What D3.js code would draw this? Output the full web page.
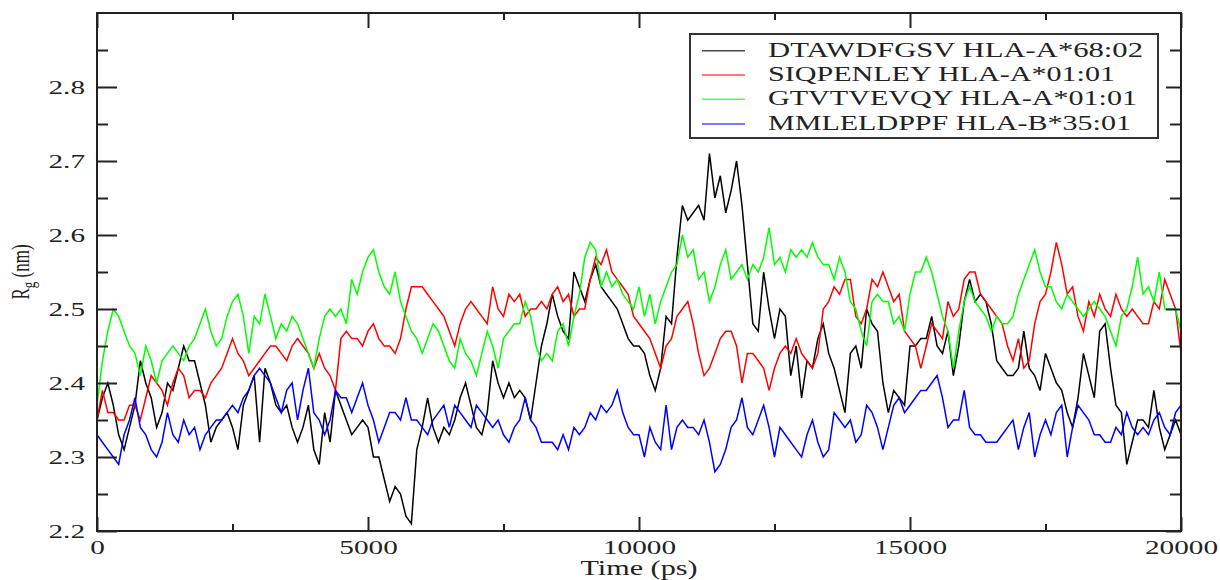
<!DOCTYPE html>
<html>
<head>
<meta charset="utf-8">
<script src="https://cdn.jsdelivr.net/npm/d3@7"></script>
<style>
  body { margin: 0; background: #fff; }
  text { font-family: "Liberation Serif", "Times New Roman", serif; fill: #222; }
</style>
</head>
<body>
<div id="top"></div>
<script>
// time axis: one frame every 100 ps, 0 .. 20000 ps
var timeStep = 100;

var seriesNames = [
  'DTAWDFGSV HLA-A*68:02',
  'SIQPENLEY HLA-A*01:01',
  'GTVTVEVQY HLA-A*01:01',
  'MMLELDPPF HLA-B*35:01'
];
var seriesColors = ['#000000', '#ff0000', '#00ff00', '#0000ff'];

// Rg (nm)
var rgDTAW = [
  2.35,2.38,2.40,2.37,2.33,2.31,2.34,2.37,2.43,2.40,
  2.38,2.34,2.36,2.40,2.39,2.42,2.45,2.43,2.43,2.40,
  2.37,2.32,2.34,2.35,2.36,2.34,2.31,2.37,2.39,2.41,
  2.32,2.42,2.40,2.37,2.36,2.37,2.34,2.32,2.34,2.37,
  2.31,2.29,2.36,2.32,2.39,2.37,2.35,2.33,2.34,2.35,
  2.34,2.30,2.30,2.27,2.24,2.26,2.25,2.22,2.21,2.31,
  2.34,2.38,2.34,2.32,2.34,2.33,2.35,2.38,2.40,2.37,
  2.34,2.33,2.36,2.43,2.40,2.38,2.40,2.38,2.39,2.38,
  2.35,2.40,2.45,2.48,2.52,2.49,2.47,2.46,2.55,2.53,
  2.51,2.54,2.56,2.53,2.52,2.51,2.50,2.48,2.46,2.45,
  2.45,2.44,2.41,2.39,2.42,2.49,2.48,2.57,2.64,2.62,
  2.63,2.64,2.62,2.71,2.65,2.68,2.63,2.66,2.70,2.64,
  2.56,2.48,2.47,2.55,2.50,2.46,2.50,2.49,2.41,2.45,
  2.38,2.43,2.42,2.46,2.48,2.44,2.42,2.39,2.36,2.44,
  2.45,2.42,2.50,2.48,2.47,2.40,2.36,2.39,2.38,2.37,
  2.45,2.45,2.46,2.46,2.49,2.45,2.44,2.47,2.41,2.45,
  2.51,2.54,2.51,2.52,2.51,2.48,2.43,2.42,2.41,2.41,
  2.42,2.47,2.42,2.41,2.39,2.44,2.42,2.40,2.39,2.36,
  2.34,2.38,2.44,2.41,2.38,2.47,2.48,2.42,2.37,2.36,
  2.29,2.32,2.35,2.35,2.34,2.39,2.34,2.31,2.33,2.35,
  2.33
];
var rgSIQP = [
  2.35,2.39,2.36,2.36,2.35,2.35,2.37,2.37,2.35,2.38,
  2.41,2.40,2.39,2.37,2.40,2.42,2.41,2.38,2.39,2.39,
  2.38,2.40,2.41,2.42,2.44,2.46,2.44,2.43,2.41,2.42,
  2.43,2.44,2.45,2.45,2.44,2.43,2.45,2.46,2.45,2.44,
  2.42,2.44,2.42,2.41,2.39,2.46,2.47,2.46,2.46,2.45,
  2.47,2.48,2.46,2.45,2.45,2.44,2.46,2.50,2.53,2.53,
  2.53,2.52,2.51,2.50,2.49,2.47,2.45,2.48,2.50,2.51,
  2.50,2.49,2.48,2.53,2.50,2.49,2.52,2.51,2.52,2.49,
  2.50,2.50,2.51,2.50,2.52,2.53,2.51,2.52,2.49,2.50,
  2.50,2.54,2.57,2.56,2.58,2.55,2.54,2.53,2.52,2.49,
  2.48,2.47,2.46,2.44,2.42,2.45,2.46,2.49,2.50,2.51,
  2.48,2.44,2.41,2.42,2.44,2.46,2.47,2.47,2.45,2.40,
  2.44,2.44,2.43,2.42,2.39,2.42,2.44,2.45,2.44,2.46,
  2.44,2.43,2.42,2.44,2.50,2.51,2.53,2.52,2.54,2.54,
  2.49,2.48,2.50,2.54,2.53,2.55,2.53,2.51,2.52,2.47,
  2.46,2.45,2.42,2.45,2.48,2.47,2.46,2.51,2.49,2.50,
  2.54,2.55,2.55,2.52,2.51,2.50,2.49,2.48,2.45,2.43,
  2.46,2.42,2.43,2.48,2.51,2.52,2.55,2.59,2.56,2.52,
  2.53,2.49,2.47,2.51,2.49,2.52,2.50,2.49,2.52,2.50,
  2.49,2.50,2.49,2.48,2.48,2.51,2.50,2.54,2.52,2.50,
  2.44
];
var rgGTVT = [
  2.37,2.43,2.47,2.50,2.49,2.47,2.45,2.44,2.41,2.45,
  2.43,2.40,2.43,2.44,2.45,2.44,2.43,2.45,2.46,2.48,
  2.50,2.47,2.45,2.46,2.49,2.51,2.52,2.49,2.44,2.49,
  2.48,2.52,2.49,2.46,2.48,2.47,2.49,2.48,2.46,2.44,
  2.42,2.46,2.49,2.50,2.49,2.50,2.48,2.54,2.52,2.55,
  2.57,2.58,2.55,2.53,2.52,2.55,2.51,2.49,2.47,2.46,
  2.44,2.46,2.48,2.47,2.45,2.43,2.42,2.46,2.44,2.43,
  2.41,2.44,2.47,2.45,2.42,2.46,2.47,2.48,2.48,2.51,
  2.49,2.45,2.43,2.44,2.43,2.47,2.48,2.45,2.49,2.52,
  2.57,2.59,2.58,2.53,2.55,2.53,2.54,2.52,2.51,2.50,
  2.53,2.49,2.52,2.48,2.51,2.53,2.55,2.56,2.60,2.57,
  2.58,2.54,2.55,2.51,2.53,2.56,2.58,2.54,2.55,2.56,
  2.54,2.56,2.55,2.57,2.61,2.56,2.57,2.55,2.58,2.57,
  2.58,2.57,2.59,2.57,2.56,2.56,2.54,2.57,2.55,2.51,
  2.50,2.47,2.45,2.51,2.52,2.51,2.51,2.48,2.49,2.47,
  2.52,2.55,2.55,2.57,2.55,2.52,2.49,2.47,2.42,2.47,
  2.51,2.53,2.51,2.50,2.49,2.47,2.49,2.48,2.48,2.49,
  2.52,2.54,2.56,2.58,2.55,2.53,2.53,2.51,2.50,2.52,
  2.51,2.50,2.49,2.50,2.51,2.50,2.49,2.47,2.45,2.49,
  2.50,2.53,2.57,2.52,2.53,2.51,2.55,2.50,2.50,2.50,
  2.47
];
var rgMMLE = [
  2.33,2.32,2.31,2.30,2.29,2.33,2.35,2.38,2.34,2.33,
  2.31,2.30,2.32,2.36,2.33,2.32,2.35,2.33,2.34,2.31,
  2.33,2.34,2.35,2.35,2.36,2.37,2.36,2.38,2.39,2.41,
  2.42,2.41,2.40,2.38,2.36,2.39,2.40,2.35,2.39,2.42,
  2.36,2.35,2.33,2.35,2.39,2.38,2.38,2.36,2.38,2.40,
  2.37,2.35,2.32,2.34,2.36,2.36,2.35,2.38,2.35,2.35,
  2.34,2.33,2.35,2.36,2.37,2.34,2.37,2.36,2.35,2.34,
  2.37,2.36,2.35,2.34,2.35,2.33,2.32,2.34,2.35,2.38,
  2.35,2.34,2.32,2.32,2.32,2.31,2.33,2.31,2.34,2.33,
  2.34,2.36,2.35,2.37,2.36,2.37,2.39,2.36,2.34,2.33,
  2.33,2.30,2.34,2.32,2.31,2.37,2.31,2.34,2.35,2.34,
  2.34,2.33,2.35,2.32,2.28,2.29,2.31,2.34,2.35,2.38,
  2.34,2.33,2.35,2.37,2.34,2.30,2.34,2.33,2.32,2.31,
  2.30,2.33,2.35,2.32,2.30,2.31,2.36,2.35,2.34,2.35,
  2.32,2.33,2.37,2.36,2.34,2.31,2.34,2.37,2.38,2.36,
  2.37,2.38,2.39,2.39,2.40,2.41,2.38,2.34,2.35,2.35,
  2.39,2.34,2.33,2.33,2.32,2.32,2.32,2.33,2.34,2.35,
  2.31,2.34,2.36,2.30,2.33,2.35,2.33,2.36,2.37,2.30,
  2.34,2.37,2.36,2.35,2.33,2.33,2.32,2.32,2.34,2.33,
  2.36,2.34,2.33,2.34,2.33,2.35,2.36,2.34,2.33,2.36,
  2.37
];

var xMajor = [0, 5000, 10000, 15000, 20000];
var xMinor = [2500, 7500, 12500, 17500];
var yMajor = [2.2, 2.3, 2.4, 2.5, 2.6, 2.7, 2.8];
var yMinor = [2.25, 2.35, 2.45, 2.55, 2.65, 2.75, 2.85];

var allSeries = [rgDTAW, rgSIQP, rgGTVT, rgMMLE];

var W = 1220, H = 580;
var plotL = 97, plotR = 1181, plotT = 13, plotB = 531;

var x = d3.scaleLinear().domain([0, 20000]).range([plotL, plotR]);
var y = d3.scaleLinear().domain([2.2, 2.9]).range([plotB, plotT]);

var svg = d3.select('#top').append('svg').attr('width', W).attr('height', H);

// the source picture was stretched sideways, so its glyphs are wide
function stretch(sel, k) {
  sel.each(function() {
    var w = this.getComputedTextLength();
    d3.select(this).attr('textLength', w * k).attr('lengthAdjust', 'spacingAndGlyphs');
  });
}

svg.append('clipPath').attr('id', 'plotclip')
  .append('rect').attr('x', plotL).attr('y', plotT).attr('width', plotR - plotL).attr('height', plotB - plotT);

var line = d3.line()
  .x(function(d, i) { return x(i * timeStep); })
  .y(function(d) { return y(d); });

svg.append('g').attr('clip-path', 'url(#plotclip)')
  .selectAll('path').data(allSeries).enter().append('path')
  .attr('d', line)
  .attr('fill', 'none')
  .attr('stroke', function(d, i) { return seriesColors[i]; })
  .attr('stroke-width', 1.5)
  .attr('stroke-linejoin', 'miter');

function styleAxis(g) {
  g.select('.domain').remove();
  g.selectAll('line').attr('stroke', '#222').attr('stroke-width', 2);
  g.selectAll('text').attr('font-size', 19.5).attr('fill', '#222')
    .style('font-family', '"Liberation Serif", serif');
}

// bottom
var gb = svg.append('g').attr('transform', 'translate(0,' + plotB + ')')
  .call(d3.axisBottom(x).tickValues(xMajor).tickFormat(d3.format('d')).tickSize(-14).tickPadding(9));
styleAxis(gb);
stretch(gb.selectAll('text'), 1.5);
svg.append('g').attr('transform', 'translate(0,' + plotB + ')')
  .call(d3.axisBottom(x).tickValues(xMinor).tickFormat('').tickSize(-7)).call(styleAxis);

// top
svg.append('g').attr('transform', 'translate(0,' + plotT + ')')
  .call(d3.axisTop(x).tickValues(xMajor).tickFormat('').tickSize(-15)).call(styleAxis);
svg.append('g').attr('transform', 'translate(0,' + plotT + ')')
  .call(d3.axisTop(x).tickValues(xMinor).tickFormat('').tickSize(-7)).call(styleAxis);

// left
var gl = svg.append('g').attr('transform', 'translate(' + plotL + ',0)')
  .call(d3.axisLeft(y).tickValues(yMajor).tickFormat(d3.format('.1f')).tickSize(-20).tickPadding(12));
styleAxis(gl);
stretch(gl.selectAll('text'), 1.5);
svg.append('g').attr('transform', 'translate(' + plotL + ',0)')
  .call(d3.axisLeft(y).tickValues(yMinor).tickFormat('').tickSize(-11)).call(styleAxis);

// right
svg.append('g').attr('transform', 'translate(' + plotR + ',0)')
  .call(d3.axisRight(y).tickValues(yMajor).tickFormat('').tickSize(-15)).call(styleAxis);
svg.append('g').attr('transform', 'translate(' + plotR + ',0)')
  .call(d3.axisRight(y).tickValues(yMinor).tickFormat('').tickSize(-11)).call(styleAxis);

// frame
svg.append('rect')
  .attr('x', plotL).attr('y', plotT).attr('width', plotR - plotL).attr('height', plotB - plotT)
  .attr('fill', 'none').attr('stroke', '#222').attr('stroke-width', 2);

// axis titles
svg.append('text')
  .attr('x', (plotL + plotR) / 2).attr('y', 575)
  .attr('text-anchor', 'middle').attr('font-size', 20)
  .attr('textLength', 117).attr('lengthAdjust', 'spacingAndGlyphs')
  .text('Time (ps)');

var ylab = svg.append('text')
  .attr('transform', 'translate(29,' + ((plotT + plotB) / 2) + ') rotate(-90) scale(1,1.5)')
  .attr('text-anchor', 'middle').attr('font-size', 17);
ylab.append('tspan').text('R');
ylab.append('tspan').attr('font-size', 13).attr('dy', 4).text('g');
ylab.append('tspan').attr('dy', -4).text(' (nm)');

// legend
var legendX = 690, legendY = 34;
var legendRows = [50.7, 75, 99.3, 124];
var legendWidths = [375, 347, 369, 363];

svg.append('rect')
  .attr('x', legendX).attr('y', legendY).attr('width', 468).attr('height', 104)
  .attr('fill', '#fff').attr('stroke', '#333').attr('stroke-width', 2);

var lg = svg.selectAll('.legend').data(seriesNames).enter().append('g').attr('class', 'legend');
lg.append('line')
  .attr('x1', 702).attr('x2', 745)
  .attr('y1', function(d, i) { return legendRows[i]; })
  .attr('y2', function(d, i) { return legendRows[i]; })
  .attr('stroke', function(d, i) { return seriesColors[i]; })
  .attr('stroke-opacity', 0.7)
  .attr('stroke-width', 1.5);
lg.append('text')
  .attr('x', 768)
  .attr('y', function(d, i) { return legendRows[i] + 6; })
  .attr('font-size', 22)
  .attr('textLength', function(d, i) { return legendWidths[i]; })
  .attr('lengthAdjust', 'spacingAndGlyphs')
  .text(function(d) { return d; });
</script>
</body>
</html>
